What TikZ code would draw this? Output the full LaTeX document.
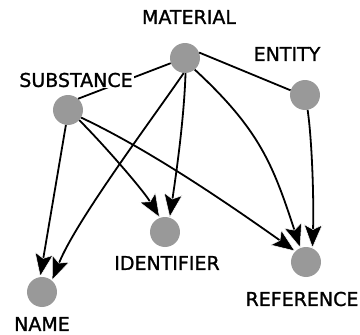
\documentclass[tikz,border=0pt]{standalone}
\usepackage{fontspec}
\setmainfont{DejaVu Sans}
\newfontfamily\lblfont[FakeBold=1.2]{DejaVu Sans}
\usetikzlibrary{arrows.meta}
\definecolor{nodegray}{RGB}{153,153,153}
\tikzset{
  dot/.style={circle,fill=nodegray,draw=none,minimum size=30pt,inner sep=0pt},
  lbl/.style={font=\lblfont\fontsize{19}{19}\selectfont,inner sep=1pt,fill=white},
  conn/.style={line width=1.8pt,black},
  arr/.style={conn,arrows={-Stealth[length=24pt,width=19pt,inset=5pt,color=white,fill=black,line width=0.5pt]}}
}
\begin{document}
\begin{tikzpicture}[x=1pt,y=-1pt]
\useasboundingbox (0,0) rectangle (360,335);
% nodes
\node[dot] (mat) at (185,58) {};
\node[dot] (ent) at (305,95) {};
\node[dot] (sub) at (68,110) {};
\node[dot] (idt) at (165,232) {};
\node[dot] (nm) at (42,292) {};
\node[dot] (ref) at (306,262) {};
% edges
\draw[conn] (sub.48) -- (mat.200);
\draw[conn] (mat.21) -- (ent.162);
\draw[arr] (sub.262) -- (nm.97);
\draw[arr] (sub.318) .. controls (105,146) and (143,190) .. (idt.110);
\draw[arr] (sub.330) .. controls (150,150) and (230,205) .. (ref.135);
\draw[arr] (mat.265) .. controls (150,122) and (76,221) .. (nm.49);
\draw[arr] (mat.272) .. controls (184,120) and (176,175) .. (idt.72);
\draw[arr] (mat.310) .. controls (260,130) and (273,165) .. (ref.112);
\draw[arr] (ent.280) .. controls (312,140) and (314,200) .. (ref.65);
% labels
\node[lbl] (lmat) at (189,17) {MATERIAL};
\node[lbl] (lent) at (287,54) {ENTITY};
\node[lbl] (lsub) at (76,80) {SUBSTANCE};
\node[lbl] (lidt) at (167,263) {IDENTIFIER};
\node[lbl] (lnm) at (42,324) {NAME};
\node[lbl] (lref) at (302,299) {REFERENCE};
\end{tikzpicture}
\end{document}
